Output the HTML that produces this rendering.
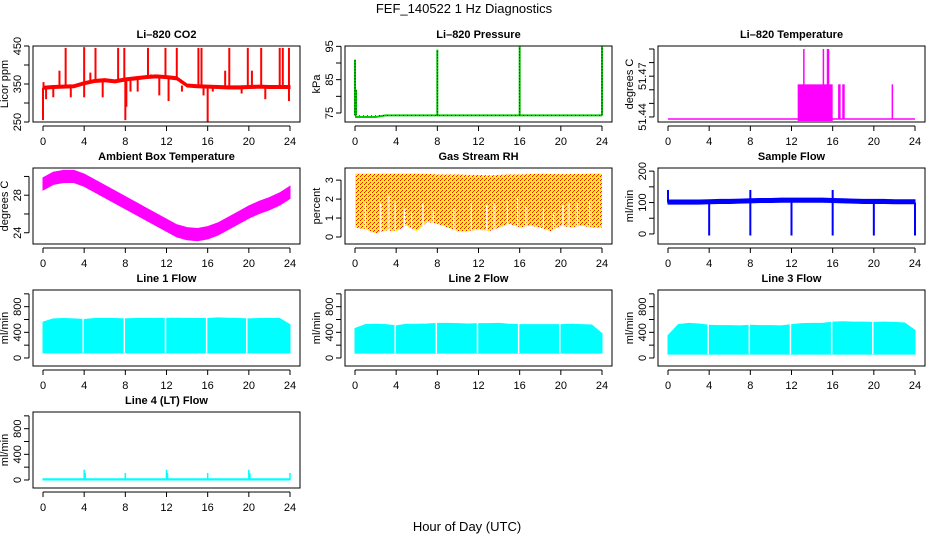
<!DOCTYPE html>
<html><head><meta charset="utf-8">
<style>
html,body{margin:0;padding:0;background:#fff;}
svg{display:block;font-family:"Liberation Sans",sans-serif;}
</style></head>
<body>
<svg id="c" width="936" height="540" viewBox="0 0 936 540" xmlns="http://www.w3.org/2000/svg">
<text x="464" y="13" font-size="13" text-anchor="middle">FEF_140522  1 Hz Diagnostics</text>
<text x="467" y="531" font-size="13" text-anchor="middle">Hour of Day (UTC)</text>
</svg>
<script>
const xTicks=[0,4,8,12,16,20,24];
const hours=[0,1,2,3,4,5,6,7,8,9,10,11,12,13,14,15,16,17,18,19,20,21,22,23,24];
// CO2
const co2Base=[340,342,343,344,352,358,360,357,362,365,368,370,368,365,346,344,343,342,341,341,342,343,342,342,342];
const co2Spikes=[[0,255],[0.05,355],[0.3,310],[1,315],[1.6,385],[2.2,445],[2.7,315],[4,447],[4,315],[4.6,380],[5.1,445],[5.8,315],[7.3,445],[7.9,445],[8,255],[8.1,290],[8.5,330],[9.2,330],[10.2,445],[10.5,375],[11.3,320],[11.9,445],[12.2,305],[13,445],[13.5,330],[15.1,445],[15.4,445],[15.6,320],[16,250],[16.5,330],[17.7,385],[18.1,445],[19.3,325],[19.9,445],[20.3,385],[21.2,445],[21.6,310],[23,445],[23.3,445],[23.9,305],[23.9,445]];
// Pressure
const presBase=[73.8,73.8,73.8,74.3,74.3,74.3,74.3,74.3,74.3,74.3,74.3,74.3,74.3,74.3,74.3,74.3,74.3,74.3,74.3,74.3,74.3,74.3,74.3,74.3,74.3];
const presSpikes=[[0,91],[0.1,82],[8,94],[16,95],[24,95]];
// Li-820 temperature
const tempBlockStart=12.6, tempBlockEnd=16.0, tempBase=51.4385, tempHigh=51.464;
const tempSpikes=[[13.2,51.49],[15.1,51.49],[15.5,51.49],[15.6,51.49],[16.6,51.464],[16.7,51.464],[17,51.464],[17.1,51.464],[21.8,51.464]];
// Ambient box temperature
const ambCenter=[29.2,29.8,30.0,30.0,29.6,29.0,28.4,27.8,27.2,26.6,26.0,25.4,24.8,24.2,23.9,23.8,24.0,24.4,25.0,25.6,26.2,26.7,27.1,27.6,28.3];
const ambHalf=0.65;
// Gas stream RH
const rhTop=[3.35,3.35,3.35,3.35,3.35,3.35,3.35,3.33,3.3,3.3,3.3,3.28,3.28,3.25,3.28,3.3,3.3,3.32,3.35,3.32,3.32,3.32,3.33,3.35,3.35];
const rhBottom=[0.5,0.4,0.2,0.35,0.3,0.6,0.3,0.8,0.7,0.5,0.3,0.3,0.4,0.3,0.5,0.7,0.5,0.6,0.5,0.3,0.6,0.5,0.6,0.5,0.5];
const rhGaps=[[1,1.8],[2.5,1.8],[3.3,2.2],[3.9,1.9],[4.8,1.5],[5.5,1.3],[6.6,1.8],[7.6,1.4],[9.6,1.5],[11.3,1.8],[12.8,1.7],[13.5,1.8],[14.8,1.9],[15.8,2.1],[16.6,1.6],[18.3,1.5],[19.3,1.3],[20.2,1.7],[20.8,1.8],[21.6,1.8],[22.8,1.9]];
// Sample flow
const sfLow=[95,95,95,95,96,97,97,98,99,100,100,101,101,101,101,101,100,99,98,97,97,97,96,96,96];
const sfHigh=[108,108,108,108,109,110,110,111,112,113,113,114,114,114,114,114,113,112,111,110,110,110,109,109,109];
const sfSpikes=[[0,140],[4,-5],[8,-5],[8,140],[12,-5],[16,-5],[16,140],[20,-5],[24,-5]];
// Line flows
const l1Low=80, l1High=[560,610,615,610,600,615,615,615,610,615,615,615,620,620,615,615,615,625,620,615,610,615,615,615,520];
const l1Gaps=[3.9,7.9,11.9,15.9,19.8];
const l2Low=75, l2High=[460,520,525,520,500,525,525,530,540,540,535,530,535,535,540,525,520,520,520,520,520,525,520,515,380];
const l2Gaps=[3.9,7.9,11.9,15.9,19.9];
const l3Low=60, l3High=[350,520,540,530,510,505,505,500,510,505,505,500,520,535,540,540,560,565,560,560,555,560,555,545,430];
const l3Gaps=[3.9,7.9,11.9,15.9,19.9];
const l4Base=20;
const l4Spikes=[[4,160],[4.1,110],[8,110],[12,160],[12.1,110],[16,110],[20,160],[20.1,110],[24,110]];

const svg=document.getElementById('c');
const NS='http://www.w3.org/2000/svg';
function mk(tag,attrs,parent){const e=document.createElementNS(NS,tag);for(const k in attrs)e.setAttribute(k,attrs[k]);(parent||svg).appendChild(e);return e;}

const defs=mk('defs',{});
const pat=mk('pattern',{id:'rhp',width:4,height:4,patternUnits:'userSpaceOnUse'},defs);
mk('rect',{x:0,y:0,width:4,height:4,fill:'#ffff00'},pat);
mk('rect',{x:0,y:0,width:1,height:1,fill:'#ff0000'},pat);
mk('rect',{x:2,y:2,width:1,height:1,fill:'#ff0000'},pat);
mk('rect',{x:1,y:3,width:1,height:1,fill:'#ff3000'},pat);

const colL=[33,345,658], rowT=[46,168,290,412], W=267, H=76;
function panel(name,title,col,row,ymin,ymax,yticks,ylabels,ytitle){
  const g=mk('g',{});
  
  
  const L=colL[col],T=rowT[row],R=L+W,B=T+H;
  const X=v=>L+10+v*(W-20)/24;
  const Y=v=>B-(v-ymin)/(ymax-ymin)*H;
  const t=mk('text',{x:(L+R)/2,y:T-8,'font-size':11,'font-weight':'bold','text-anchor':'middle'},g);
  t.textContent=title;
  
  
  const plot=mk('g',{},g);
  
  
  mk('rect',{x:L,y:T,width:W,height:H,fill:'none',stroke:'#000','stroke-width':1},g);
  const xa=mk('g',{stroke:'#000'},g);
  
  
  mk('line',{x1:X(0),x2:X(24),y1:B+4,y2:B+4},xa);
  xTicks.forEach(v=>{mk('line',{x1:X(v),x2:X(v),y1:B+4,y2:B+9},xa);
    const tx=mk('text',{x:X(v),y:B+23,'font-size':11,'text-anchor':'middle',stroke:'none'},xa);tx.textContent=v;});
  const ya=mk('g',{stroke:'#000'},g);
  
  
  mk('line',{x1:L-4,x2:L-4,y1:Y(yticks[0]),y2:Y(yticks[yticks.length-1])},ya);
  yticks.forEach(v=>mk('line',{x1:L-4,x2:L-9,y1:Y(v),y2:Y(v)},ya));
  ylabels.forEach(v=>{const tx=mk('text',{x:L-12,y:Y(v),'font-size':11,'text-anchor':'middle',stroke:'none',transform:`rotate(-90 ${L-12} ${Y(v)})`},ya);tx.textContent=v;});
  const yt=mk('text',{x:L-25,y:(T+B)/2,'font-size':11,'text-anchor':'middle',transform:`rotate(-90 ${L-25} ${(T+B)/2})`},g);
  yt.textContent=ytitle;
  
  
  return {X,Y,plot,L,T,R,B};
}
function band(p,xs,lo,hi,fill){
  let d='M'+xs.map((x,i)=>p.X(x)+','+p.Y(hi[i])).join('L');
  d+='L'+xs.slice().reverse().map((x,i)=>p.X(x)+','+p.Y(lo[lo.length-1-i])).join('L')+'Z';
  return mk('path',{d,fill,stroke:fill==='url(#rhp)'?'none':fill,'stroke-width':1},p.plot);
}
function vline(p,x,y1,y2,color,w){return mk('line',{x1:p.X(x),x2:p.X(x),y1:p.Y(y1),y2:p.Y(y2),stroke:color,'stroke-width':w||1.5},p.plot);}

let p=panel('co2-panel','Li\u2013820 CO2',0,0,250,450,[250,300,350,400,450],[250,350,450],'Licor ppm');
band(p,hours,co2Base.map(v=>v-4),co2Base.map(v=>v+4),'#ff0000');
co2Spikes.forEach(s=>{const b=co2Base[Math.min(24,Math.round(s[0]))];vline(p,s[0],b,s[1],'#ff0000',2);});
p=panel('pressure-panel','Li\u2013820 Pressure',1,0,72.3,95.1,[75,80,85,90,95],[75,85,95],'kPa');
mk('polyline',{points:hours.map((h,i)=>p.X(h)+','+p.Y(presBase[i])).join(' '),fill:'none',stroke:'#00cc00','stroke-width':2},p.plot);
presSpikes.forEach(s=>{vline(p,s[0],74.3,s[1],'#00cc00',2);mk('line',{x1:p.X(s[0]),x2:p.X(s[0]),y1:p.Y(74.3),y2:p.Y(s[1]),stroke:'#000','stroke-width':1,'stroke-dasharray':'1 2'},p.plot);});
mk('line',{x1:p.X(0),x2:p.X(24),y1:p.Y(74.3),y2:p.Y(74.3),stroke:'#000','stroke-width':0.6,'stroke-dasharray':'1 3'},p.plot);
p=panel('li820-temp-panel','Li\u2013820 Temperature',2,0,51.4363,51.4922,[51.44,51.45,51.46,51.47,51.48,51.49],[51.44,51.47],'degrees C');
mk('line',{x1:p.X(0),x2:p.X(24),y1:p.Y(tempBase),y2:p.Y(tempBase),stroke:'#ff00ff','stroke-width':1.5},p.plot);
mk('rect',{x:p.X(tempBlockStart),y:p.Y(tempHigh),width:p.X(tempBlockEnd)-p.X(tempBlockStart),height:p.Y(tempBase)-p.Y(tempHigh)+2,fill:'#ff00ff'},p.plot);
tempSpikes.forEach(s=>vline(p,s[0],tempBase,s[1],'#ff00ff',1.5));
p=panel('ambient-temp-panel','Ambient Box Temperature',0,1,22.8,30.9,[24,26,28,30],[24,28],'degrees C');
band(p,hours,ambCenter.map(v=>v-ambHalf),ambCenter.map(v=>v+ambHalf),'#ff00ff');
p=panel('rh-panel','Gas Stream RH',1,1,-0.37,3.64,[0,1,2,3],[0,1,2,3],'percent');
band(p,hours,rhBottom,rhTop,'url(#rhp)');
rhGaps.forEach(s=>vline(p,s[0],0.1,s[1],'#ffffff',1.2));
p=panel('sample-flow-panel','Sample Flow',2,1,-32,210,[0,50,100,150,200],[0,100,200],'ml/min');
band(p,hours,sfLow,sfHigh,'#0000ff');
sfSpikes.forEach(s=>vline(p,s[0],100,s[1],'#0000ff',2));
function linePanel(name,title,col,row,low,high,gaps){
  const q=panel(name,title,col,row,-125,1060,[0,200,400,600,800,1000],[0,400,800],'ml/min');
  band(q,hours,hours.map(()=>low),high,'#00ffff');
  gaps.forEach(gx=>vline(q,gx,low,high[Math.round(gx)]+10,'#ffffff',1.5));
  return q;
}
linePanel('line1-flow-panel','Line 1 Flow',0,2,l1Low,l1High,l1Gaps);
linePanel('line2-flow-panel','Line 2 Flow',1,2,l2Low,l2High,l2Gaps);
linePanel('line3-flow-panel','Line 3 Flow',2,2,l3Low,l3High,l3Gaps);
p=panel('line4-flow-panel','Line 4 (LT) Flow',0,3,-125,1060,[0,200,400,600,800,1000],[0,400,800],'ml/min');
band(p,[0,24],[0,0],[l4Base,l4Base],'#00ffff');
l4Spikes.forEach(s=>vline(p,s[0],0,s[1],'#00ffff',1.5));
</script>
</body></html>
